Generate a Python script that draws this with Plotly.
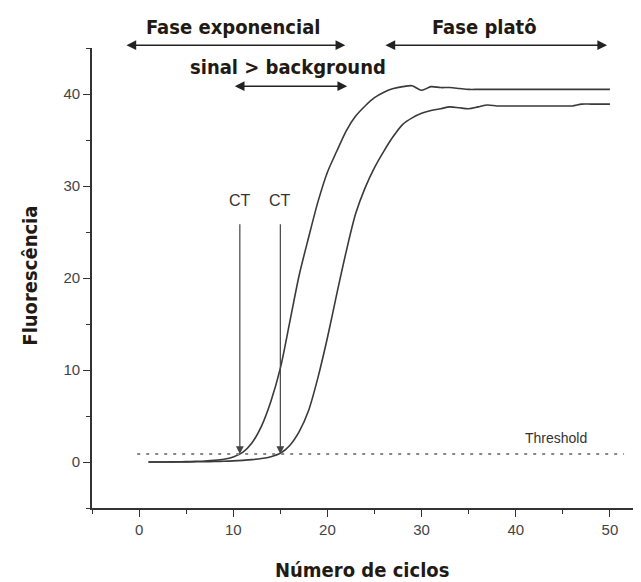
import plotly.graph_objects as go

cycles = list(range(1, 51))
curve_a = [0.0, 0.0, 0.0, 0.02, 0.04, 0.07, 0.11, 0.18, 0.3, 0.55,
           1.05, 2.1, 3.9, 6.6, 10.2, 15.2, 20.3, 24.4, 28.3, 31.5,
           33.8, 36.0, 37.6, 38.7, 39.6, 40.2, 40.6, 40.8, 40.9, 40.4,
           40.8, 40.7, 40.7, 40.6] + [40.5] * 16
curve_b = [0.0, 0.0, 0.0, 0.0, 0.01, 0.02, 0.03, 0.05, 0.08, 0.12,
           0.18, 0.26, 0.38, 0.58, 0.95, 1.8, 3.3, 5.6, 9.2, 13.5,
           18.3, 22.9, 27.0, 29.8, 32.0, 33.8, 35.4, 36.7, 37.4, 37.9,
           38.2, 38.4, 38.6, 38.5, 38.4, 38.6, 38.8] + [38.7] * 9 + [38.9] * 4

threshold_value = 0.87
threshold_x = [-0.2, 51.5]
ct_values = [10.7, 15.0]
ct_label_y = 27.3
ct_arrow_top = 26.0

exp_phase = [-1.5, 21.9]
plateau_phase = [26.0, 49.7]
signal_phase = [10.0, 22.1]
signal_y = 40.85

x_ticks = [0, 10, 20, 30, 40, 50]
y_ticks = [0, 10, 20, 30, 40]

line_col = "#3a3a3a"
text_col = "#333333"
title_font = dict(family="Liberation Sans Narrow, DejaVu Sans Condensed, Roboto", size=20, color="#221a12")

# the page body adds an 8px offset; compensate so the plot area lands where the reference has it
BODY = 8

fig = go.Figure()
fig.add_trace(go.Scatter(x=cycles, y=curve_a, mode="lines",
                         line=dict(color=line_col, width=1.6, shape="spline", smoothing=0.8),
                         showlegend=False, hoverinfo="skip"))
fig.add_trace(go.Scatter(x=cycles, y=curve_b, mode="lines",
                         line=dict(color=line_col, width=1.6, shape="spline", smoothing=0.8),
                         showlegend=False, hoverinfo="skip"))
fig.add_trace(go.Scatter(x=threshold_x, y=[threshold_value, threshold_value], mode="lines",
                         line=dict(color="#888888", width=2, dash="3px,6px"),
                         showlegend=False, hoverinfo="skip"))

ann = []
for ct in ct_values:
    ann.append(dict(x=ct, y=threshold_value, xref="x", yref="y", ax=ct, ay=ct_arrow_top,
                    axref="x", ayref="y", text="", showarrow=True, arrowhead=2,
                    arrowsize=1.3, arrowwidth=1.2, arrowcolor="#444444"))
    ann.append(dict(x=ct, y=ct_label_y, xref="x", yref="y", text="CT", showarrow=False,
                    xanchor="center", yanchor="bottom",
                    font=dict(family="Liberation Sans, Arial", size=16, color=text_col)))

ann.append(dict(x=44.3, y=threshold_value + 0.6, xref="x", yref="y", text="Threshold", showarrow=False,
                xanchor="center", yanchor="bottom",
                font=dict(family="Liberation Sans, Arial", size=14, color=text_col)))

for (x0, x1) in [exp_phase, plateau_phase]:
    ann.append(dict(x=x1, y=1.006, xref="x", yref="paper", ax=x0, ay=0,
                    axref="x", ayref="pixel", text="", showarrow=True, arrowhead=2,
                    arrowside="end+start", arrowsize=1.3, arrowwidth=1.5, arrowcolor="#222222"))
ann.append(dict(x=signal_phase[1], y=signal_y, xref="x", yref="y", ax=signal_phase[0], ay=signal_y,
                axref="x", ayref="y", text="", showarrow=True, arrowhead=2,
                arrowside="end+start", arrowsize=1.3, arrowwidth=1.5, arrowcolor="#222222"))

for txt, px, py, ang in [("Fase exponencial", 0.257, 1.045, 0),
                         ("Fase platô", 0.715, 1.045, 0),
                         ("sinal > background", 0.357, 0.958, 0),
                         ("Fluorescência", -0.113, 0.505, -90),
                         ("Número de ciclos", 0.492, -0.135, 0)]:
    ann.append(dict(x=px, y=py, xref="paper", yref="paper", text="<b>" + txt + "</b>",
                    textangle=ang, showarrow=False, xanchor="center", yanchor="middle",
                    font=title_font))

axis_common = dict(showgrid=False, zeroline=False,
                   showline=True, linecolor="#333333", linewidth=1.6,
                   ticks="outside", ticklen=7, tickwidth=1.4, tickcolor="#333333",
                   minor=dict(dtick=5, tick0=0, ticks="outside", ticklen=4, tickwidth=1.4, tickcolor="#333333"),
                   tickfont=dict(family="Liberation Sans, Arial", size=15, color="#444444"))

fig.update_layout(
    width=641 - BODY, height=582 - BODY,
    margin=dict(l=92 - BODY, r=0, t=48 - BODY, b=74),
    plot_bgcolor="white", paper_bgcolor="white",
    annotations=ann,
    xaxis=dict(range=[-5, 53.3], tickvals=x_ticks, **axis_common),
    yaxis=dict(range=[-5, 45], tickvals=y_ticks, **axis_common),
)

fig.write_html("out.html")
